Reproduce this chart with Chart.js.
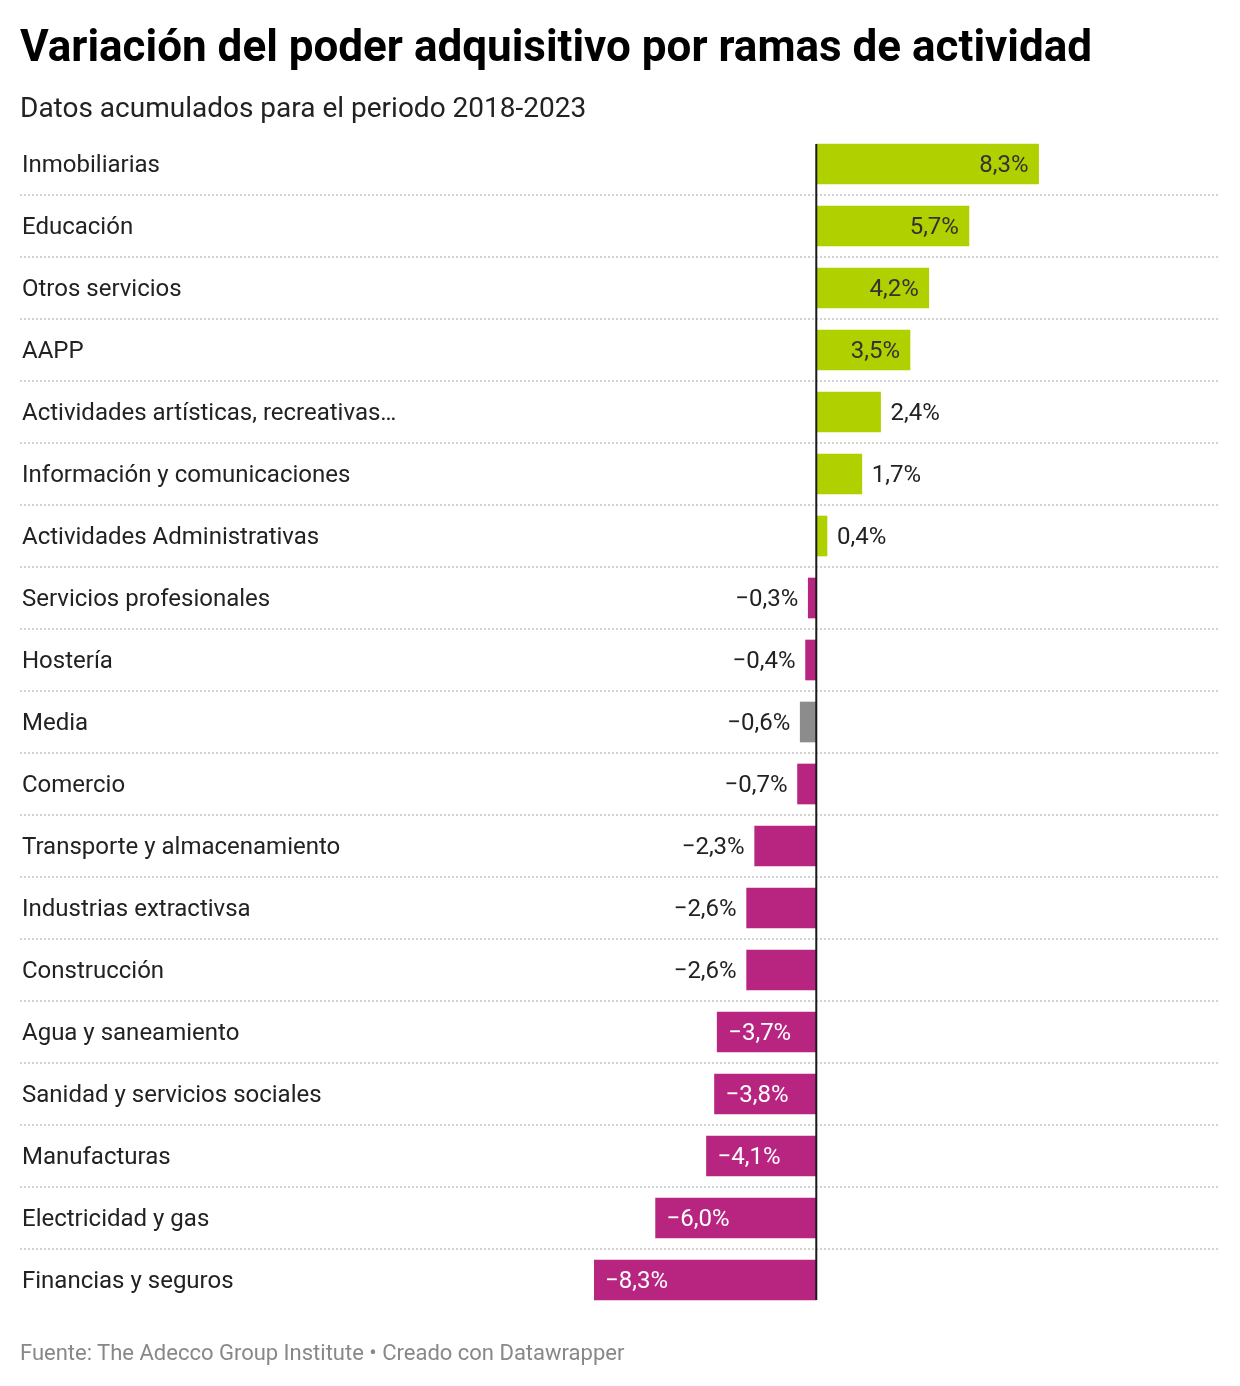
<!DOCTYPE html>
<html>
<head>
<meta charset="utf-8">
<script src="https://cdn.jsdelivr.net/npm/chart.js@4"></script>
<style>
  html, body { margin: 0; padding: 0; background: #fff; }
  body { width: 1240px; height: 1386px; position: relative; overflow: hidden; font-family: Roboto, sans-serif; }
  .txt { position: absolute; left: 20px; white-space: nowrap; line-height: 1; }
  #title { top: 24px; font-size: 44px; font-weight: 700; color: #000; }
  #subtitle { top: 94px; font-size: 28px; color: #222; }
  #footer { top: 1342px; font-size: 22px; color: #888; }
  #wrap { position: absolute; left: 0; top: 0; width: 1240px; height: 1386px; }
</style>
</head>
<body>
<div id="wrap"><canvas id="myChart"></canvas></div>
<div class="txt" id="title">Variación del poder adquisitivo por ramas de actividad</div>
<div class="txt" id="subtitle">Datos acumulados para el periodo 2018-2023</div>
<div class="txt" id="footer">Fuente: The Adecco Group Institute • Creado con Datawrapper</div>
<script>
var ramas = ["Inmobiliarias", "Educación", "Otros servicios", "AAPP",
	"Actividades artísticas, recreativas…", "Información y comunicaciones",
	"Actividades Administrativas", "Servicios profesionales", "Hostería", "Media",
	"Comercio", "Transporte y almacenamiento", "Industrias extractivsa", "Construcción",
	"Agua y saneamiento", "Sanidad y servicios sociales", "Manufacturas",
	"Electricidad y gas", "Financias y seguros"];
var variacion = [8.3, 5.7, 4.2, 3.5, 2.4, 1.7, 0.4, -0.3, -0.4, -0.6, -0.7, -2.3, -2.6, -2.6, -3.7, -3.8, -4.1, -6.0, -8.3];

var verde = "#b1d000", magenta = "#b72581", gris = "#8c8c8c";

var colores = ramas.map(function(r, i) {
	if (r === "Media") return gris;
	return variacion[i] >= 0 ? verde : magenta;
});

function fmt(v) {
	var s = Math.abs(v).toFixed(1).replace('.', ',') + '%';
	return (v < 0 ? '\u2212' : '') + s;
}

// separadores punteados, linea del cero y etiquetas de valor
var decoPlugin = {
	id: 'deco',
	beforeDatasetsDraw: function(chart) {
		var ctx = chart.ctx, y = chart.scales.y;
		ctx.save();
		ctx.strokeStyle = "#d2d2d2";
		ctx.lineWidth = 2;
		ctx.setLineDash([2, 2]);
		for (var i = 0; i < ramas.length - 1; i++) {
			var yy = Math.round((y.getPixelForValue(i) + y.getPixelForValue(i + 1)) / 2);
			ctx.beginPath();
			ctx.moveTo(20, yy);
			ctx.lineTo(1218, yy);
			ctx.stroke();
		}
		ctx.restore();
	},
	afterDatasetsDraw: function(chart) {
		var ctx = chart.ctx, x = chart.scales.x;
		var meta = chart.getDatasetMeta(0);
		var first = meta.data[0], last = meta.data[meta.data.length - 1];
		var x0 = x.getPixelForValue(0);
		ctx.save();
		ctx.strokeStyle = "#1a1a1a";
		ctx.lineWidth = 2;
		ctx.beginPath();
		ctx.moveTo(x0, first.y - first.height / 2);
		ctx.lineTo(x0, last.y + last.height / 2);
		ctx.stroke();

		ctx.font = "24px Roboto";
		ctx.textBaseline = "middle";
		meta.data.forEach(function(bar, i) {
			var v = variacion[i];
			var txt = fmt(v);
			var w = ctx.measureText(txt).width;
			var len = Math.abs(bar.x - x0);
			var inside = w + 20 < len;
			var ty = bar.y + 2;
			if (v >= 0) {
				if (inside) { ctx.textAlign = "right"; ctx.fillStyle = "#333"; ctx.fillText(txt, bar.x - 10, ty); }
				else { ctx.textAlign = "left"; ctx.fillStyle = "#222"; ctx.fillText(txt, bar.x + 10, ty); }
			} else {
				if (inside) { ctx.textAlign = "left"; ctx.fillStyle = "#fff"; ctx.fillText(txt, bar.x + 11, ty); }
				else { ctx.textAlign = "right"; ctx.fillStyle = "#222"; ctx.fillText(txt, bar.x - 10, ty); }
			}
		});
		ctx.restore();
	}
};

var ctx = document.getElementById("myChart");
var myChart = new Chart(ctx, {
	type: 'bar',
	data: {
		labels: ramas,
		datasets: [{
			data: variacion,
			backgroundColor: colores,
			borderWidth: 0,
			barThickness: 40,
			categoryPercentage: 1
		}]
	},
	options: {
		indexAxis: 'y',
		responsive: true,
		maintainAspectRatio: false,
		animation: false,
		layout: { padding: { left: 22, right: 22, top: 133, bottom: 75 } },
		plugins: {
			legend: { display: false },
			tooltip: { enabled: false }
		},
		scales: {
			x: {
				display: false,
				min: -8.3,
				max: 15
			},
			y: {
				afterFit: function(scale) { scale.width = 572; },
				grid: { display: false },
				border: { display: false },
				ticks: {
					crossAlign: 'far',
					padding: 0,
					labelOffset: 2,
					color: "#222",
					font: { family: "Roboto", size: 24 }
				}
			}
		}
	},
	plugins: [decoPlugin]
});
</script>
</body>
</html>
